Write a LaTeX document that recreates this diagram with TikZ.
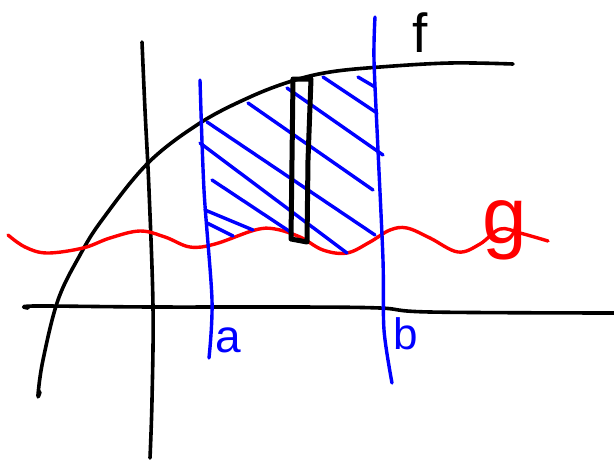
\documentclass[tikz,border=0pt]{standalone}
\usepackage{fontspec}
\setmainfont{Liberation Sans}
\begin{document}
\begin{tikzpicture}[x=1pt,y=-1pt,
	pen/.style={line width=3.6pt,line cap=round,line join=round},
	hatch/.style={pen,blue,line width=3.4pt},
	label/.style={inner sep=0pt}]
	\useasboundingbox (0,0) rectangle (614,459);
	\draw[pen] plot[smooth,tension=0.6] coordinates {(142,42) (145,110) (149,190) (153,307) (152,400) (150,458)};
	\draw[pen] plot[smooth,tension=0.6] coordinates {(28,308) (35,306) (153,307) (300,307) (380,308) (430,312) (614,313)};
	\draw[pen] plot[smooth,tension=0.6] coordinates {(40,392) (38,395) (43,360) (58,300) (80,255) (102,220) (148,163) (200,123) (250,97) (292,81) (330,72) (380,67) (450,63) (513,64)};
	\draw[pen,red,line width=3.4pt] plot[smooth,tension=0.6] coordinates {(8,235) (25,247) (47,253) (83,248) (110,238) (140,231) (165,237) (190,247) (215,244) (255,230) (275,229) (300,237) (323,250) (347,253) (370,242) (390,230) (407,228) (430,238) (458,252) (480,244) (500,229) (520,233) (548,241)};
	\draw[hatch] plot[smooth] coordinates {(200,80) (204,190) (212,300) (209,358)};
	\draw[hatch] plot[smooth] coordinates {(375,17) (374,60) (378,150) (383,260) (384,330) (392,383)};
	\foreach \xa/\ya/\xb/\yb in {248/103/373/190, 287/88/383/155, 323/77/377/113, 358/77/375/87, 207/122/375/235, 200/143/347/253, 212/180/292/233, 205/210/253/230, 207/223/233/236}
		\draw[hatch] (\xa,\ya) -- (\xb,\yb);
	\draw[pen,line width=5pt] (293,79) -- (311,79) -- (308,160) -- (307,242) -- (291,239) -- (292,160) -- cycle;
	\node[label] (fl) at (420,33) {\fontsize{55}{55}\selectfont f};
	\node[label,red] (gl) at (505,230) {\fontsize{80}{80}\selectfont g};
	\node[label,blue] (al) at (228,340) {\fontsize{46}{46}\selectfont a};
	\node[label,blue] (bl) at (406,334) {\fontsize{44}{44}\selectfont b};
\end{tikzpicture}
\end{document}
